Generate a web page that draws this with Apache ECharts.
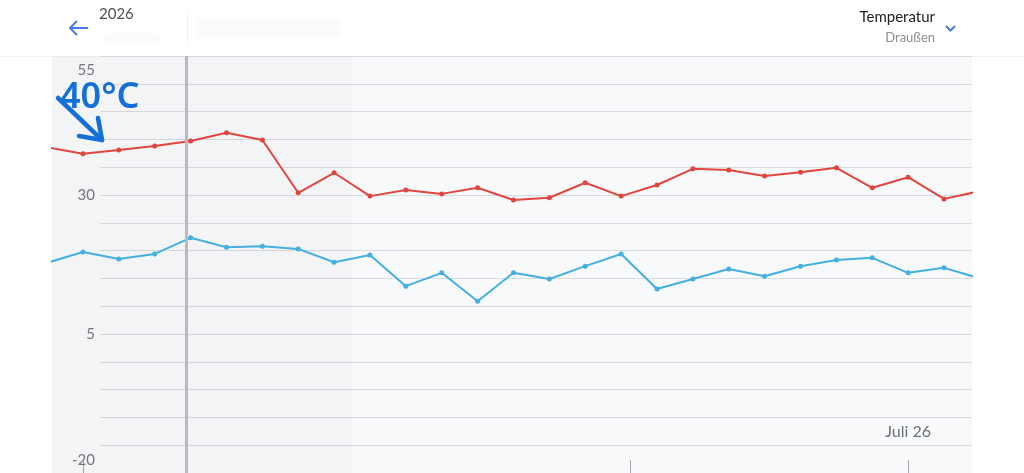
<!DOCTYPE html>
<html>
<head>
<meta charset="utf-8">
<style>
  html, body { margin: 0; padding: 0; background: #ffffff; }
  #chart { width: 1024px; height: 473px; }
</style>
<script src="https://cdn.jsdelivr.net/npm/echarts@6/dist/echarts.min.js"></script>
</head>
<body>
<div id="chart"></div>
<script>
// ---- data ----
const days = [0, 1, 2, 3, 4, 5, 6, 7, 8, 9, 10, 11, 12, 13, 14, 15, 16, 17, 18, 19, 20, 21, 22, 23, 24, 25, 26];
const tempHigh = [38.6, 37.4, 38.1, 38.8, 39.7, 41.2, 39.9, 30.4, 34.0, 29.8, 30.9, 30.2, 31.3, 29.1, 29.5, 32.2, 29.8, 31.8, 34.7, 34.5, 33.4, 34.1, 34.9, 31.3, 33.2, 29.3, 30.7];
const tempLow  = [17.8, 19.75, 18.5, 19.4, 22.3, 20.6, 20.8, 20.3, 17.9, 19.2, 13.6, 16.0, 10.9, 16.0, 14.9, 17.2, 19.4, 13.1, 14.9, 16.7, 15.4, 17.2, 18.3, 18.7, 16.0, 16.9, 15.0];
const yTickLabels = [-20, 5, 30, 55];
const xTicks = [1, 16.25, 24];
const xLabelTicks = [24];
const xLabelText = ['Juli 26'];
const viewRange = [0.137, 25.78];
const shadedRange = [0.137, 8.5];
const cursorDay = 3.87;
const yearText = '2026';
const titleText = 'Temperatur';
const subtitleText = 'Draußen';
const noteText = '40°C';

const FONT = 'Lato, "Open Sans", sans-serif';
const chart = echarts.init(document.getElementById('chart'), null, { renderer: 'canvas' });

const pairs = (vals) => days.map((d, i) => [d, vals[i]]);

const option = {
  animation: false,
  backgroundColor: '#ffffff',
  grid: [
    { left: 52, right: 52, top: 56, bottom: 0, show: true, backgroundColor: '#f8f9fa', borderWidth: 0 },
    { left: 100, right: 52, top: 56, bottom: 0, show: false }
  ],
  xAxis: [
    {
      gridIndex: 0, type: 'value', min: viewRange[0], max: viewRange[1],
      axisLine: { show: false, onZero: false },
      splitLine: { show: false },
      axisTick: { show: true, inside: true, length: 13, customValues: xTicks, lineStyle: { color: '#a5a7aa', width: 1 } },
      axisLabel: {
        show: true, inside: true, margin: 33, customValues: xLabelTicks,
        formatter: (v) => { const k = xLabelTicks.indexOf(v); return k >= 0 ? xLabelText[k] : ''; },
        color: '#6b6e72', fontSize: 16, fontFamily: FONT
      }
    },
    { gridIndex: 1, type: 'value', min: 0, max: 1, show: false }
  ],
  yAxis: [
    { gridIndex: 0, type: 'value', min: -20, max: 55, interval: 5, show: false, splitLine: { show: false } },
    {
      gridIndex: 1, type: 'value', min: -20, max: 55, interval: 5,
      axisLine: { show: false }, axisTick: { show: false },
      splitLine: { show: true, lineStyle: { color: '#d9dbde', width: 1 } },
      axisLabel: {
        show: true, margin: 5, customValues: yTickLabels,
        color: '#77797c', fontSize: 15, fontFamily: FONT,
        formatter: (v) => v === 55 ? '{t|' + v + '}' : (v === -20 ? '{b|' + v + '}' : '{m|' + v + '}'),
        rich: {
          t: { padding: [28, 0, 0, 0], color: '#77797c', fontSize: 15, fontFamily: FONT },
          b: { padding: [0, 0, 26, 0], color: '#77797c', fontSize: 15, fontFamily: FONT },
          m: { color: '#77797c', fontSize: 15, fontFamily: FONT }
        }
      }
    }
  ],
  series: [
    {
      type: 'line', xAxisIndex: 0, yAxisIndex: 0, z: 1,
      data: [], silent: true,
      markArea: {
        silent: true,
        itemStyle: { color: 'rgba(0,10,40,0.018)' },
        data: [[{ xAxis: shadedRange[0] }, { xAxis: shadedRange[1] }]]
      },
      markLine: {
        silent: true, symbol: ['none', 'none'], label: { show: false },
        lineStyle: { color: '#b9bbbf', width: 3, type: 'solid' },
        data: [{ xAxis: cursorDay }]
      }
    },
    {
      name: 'Max', type: 'line', xAxisIndex: 0, yAxisIndex: 0, z: 3,
      data: pairs(tempHigh),
      symbol: 'circle', symbolSize: 5, showSymbol: true,
      lineStyle: { color: '#e0463f', width: 2 },
      itemStyle: { color: '#e0463f' }
    },
    {
      name: 'Min', type: 'line', xAxisIndex: 0, yAxisIndex: 0, z: 3,
      data: pairs(tempLow),
      symbol: 'circle', symbolSize: 5, showSymbol: true,
      lineStyle: { color: '#45afe0', width: 2 },
      itemStyle: { color: '#45afe0' }
    }
  ],
  graphic: [
    // header: back arrow
    { type: 'polyline', shape: { points: [[70, 28], [88, 28]] }, style: { stroke: '#4a7be4', lineWidth: 2, fill: null } },
    { type: 'polyline', shape: { points: [[77, 21], [70, 28], [77, 35]] }, style: { stroke: '#4a7be4', lineWidth: 2, fill: null } },
    { type: 'text', left: 99, top: 7, style: { text: yearText, fill: '#4f5154', font: '15px ' + FONT } },
    // faint blurred header items
    { type: 'rect', shape: { x: 104, y: 33, width: 58, height: 12, r: 6 }, style: { fill: '#fbfbfb' } },
    { type: 'rect', shape: { x: 196, y: 18, width: 145, height: 20, r: 8 }, style: { fill: '#fbfbfb' } },
    { type: 'line', shape: { x1: 187.5, y1: 10, x2: 187.5, y2: 45 }, style: { stroke: '#f2f2f2', lineWidth: 1 } },
    { type: 'line', shape: { x1: 0, y1: 56.5, x2: 1024, y2: 56.5 }, style: { stroke: '#f1f2f3', lineWidth: 1 } },
    // header right
    { type: 'text', right: 89, top: 10, style: { text: titleText, fill: '#222222', font: '15px ' + FONT, textAlign: 'right' } },
    { type: 'text', right: 89, top: 31, style: { text: subtitleText, fill: '#8a8c90', font: '13px ' + FONT, textAlign: 'right' } },
    { type: 'polyline', shape: { points: [[946, 26], [950.5, 30.5], [955, 26]] }, style: { stroke: '#4a7be4', lineWidth: 2, fill: null } },
    // handwritten annotation
    { type: 'text', left: 60, top: 80, z: 10, style: { text: noteText, fill: '#1470d8', font: '600 36px "Noto Sans", sans-serif' } },
    { type: 'polyline', z: 10, shape: { points: [[58, 98], [102, 140]] }, style: { stroke: '#1470d8', lineWidth: 4.5, lineCap: 'round', fill: null } },
    { type: 'polyline', z: 10, shape: { points: [[79, 136], [102, 140], [98, 118]] }, style: { stroke: '#1470d8', lineWidth: 4.5, lineCap: 'round', lineJoin: 'round', fill: null } }
  ]
};

chart.setOption(option);
</script>
</body>
</html>
